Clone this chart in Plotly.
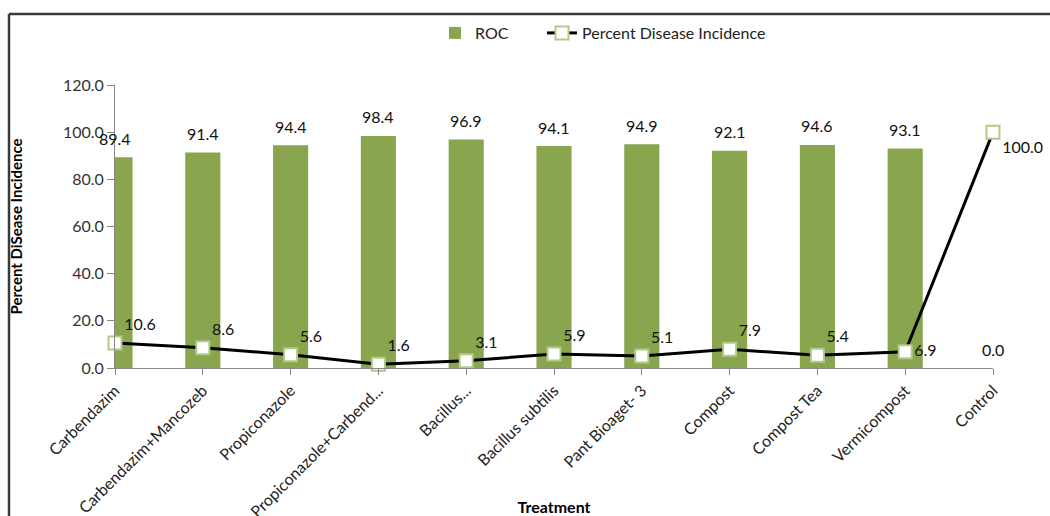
import plotly.graph_objects as go

# Treatments on the category axis
treatments = [
    "Carbendazim", "Carbendazim+Mancozeb", "Propiconazole",
    "Propiconazole+Carbend...", "Bacillus...", "Bacillus subtilis",
    "Pant Bioaget- 3", "Compost", "Compost Tea", "Vermicompost", "Control",
]
# Reduction over control (bars)
roc = [89.4, 91.4, 94.4, 98.4, 96.9, 94.1, 94.9, 92.1, 94.6, 93.1, 0.0]
# Percent disease incidence (line)
pdi = [10.6, 8.6, 5.6, 1.6, 3.1, 5.9, 5.1, 7.9, 5.4, 6.9, 100.0]

y_ticks = [0, 20, 40, 60, 80, 100, 120]

W, H = 1050, 516
L, R, T, B = 115, 57, 85, 148
FONT = "Lato"
BAR = "#89A54E"
AXIS = "#888888"

fig = go.Figure()

fig.add_trace(go.Bar(
    x=treatments, y=roc, name="ROC",
    marker=dict(color=BAR, line=dict(width=0)),
    width=0.4, legend="legend", showlegend=True,
))

# label placement for the incidence values, relative to each marker
pdi_pos = ["top right"] * (len(pdi) - 2) + ["middle right", "bottom right"]

fig.add_trace(go.Scatter(
    x=treatments, y=pdi, name="Percent Disease Incidence",
    mode="lines+markers+text",
    line=dict(color="black", width=3),
    marker=dict(symbol="square", size=13, color="white",
                line=dict(color="#B2C98A", width=2)),
    text=[f"{v:.1f}" for v in pdi],
    textposition=pdi_pos,
    textfont=dict(family=FONT, size=16, color="#111111"),
    cliponaxis=False, legend="legend2", showlegend=True,
))

# value labels above each bar
for name, v in zip(treatments, roc):
    fig.add_annotation(
        x=name, y=v, text=f"{v:.1f}", showarrow=False,
        yshift=19, font=dict(family=FONT, size=16, color="#111111"),
    )

# chart frame (left and top edges)
pw, ph = W - L - R, H - T - B
fx0 = (9 - L) / pw
fy1 = (H - B - 14) / ph
fig.add_shape(type="line", xref="paper", yref="paper",
              x0=fx0, x1=fx0, y0=fy1, y1=-(B + 10) / ph,
              line=dict(color="#3a3a3a", width=2.5))
fig.add_shape(type="line", xref="paper", yref="paper",
              x0=fx0, x1=(W - L + 10) / pw, y0=fy1, y1=fy1,
              line=dict(color="#3a3a3a", width=2.5))

legend_style = dict(orientation="h", xanchor="left",
                    y=(H - B - 33) / ph, yanchor="middle",
                    font=dict(family=FONT, size=16, color="#222222"),
                    itemwidth=30, bgcolor="rgba(0,0,0,0)")

fig.update_layout(
    width=W, height=H, showlegend=True,
    margin=dict(l=L, r=R, t=T, b=B, pad=0, autoexpand=False),
    plot_bgcolor="white", paper_bgcolor="white",
    font=dict(family=FONT, size=16, color="#222222"),
    bargap=0.6,
    legend=dict(x=(435 - L) / pw, **legend_style),
    legend2=dict(x=(542 - L) / pw, **legend_style),
    xaxis=dict(
        type="category", range=[0, len(treatments) - 1], automargin=False,
        showline=True, linecolor=AXIS, linewidth=1,
        ticks="outside", ticklen=6, tickcolor=AXIS,
        tickangle=-45, tickfont=dict(family=FONT, size=16, color="#222222"),
        showgrid=False,
        title=dict(text="<b>Treatment</b>", standoff=3,
                   font=dict(family=FONT, size=16, color="black")),
    ),
    yaxis=dict(
        range=[0, 120], tickvals=y_ticks, tickformat=".1f", automargin=False,
        showline=True, linecolor=AXIS, linewidth=1,
        ticks="outside", ticklen=7, tickcolor=AXIS,
        tickfont=dict(family=FONT, size=16, color="#333333"),
        showgrid=False, zeroline=False,
        title=dict(text="<b>Percent DiSease Incidence</b>", standoff=36,
                   font=dict(family=FONT, size=15, color="black")),
    ),
)

fig.write_html("out.html")
